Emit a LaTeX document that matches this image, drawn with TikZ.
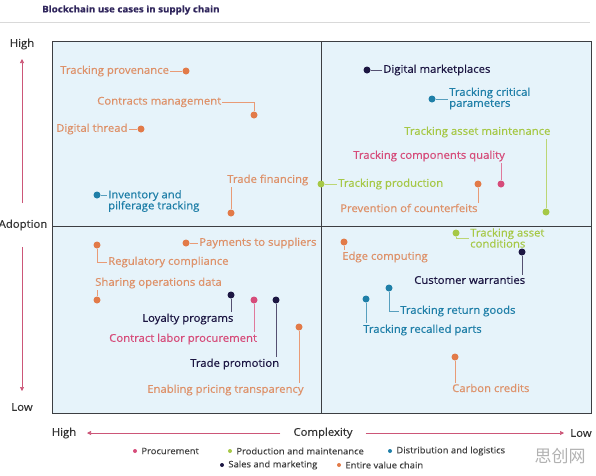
\documentclass[tikz,border=0pt]{standalone}
\usepackage{fontspec}
\setmainfont{Open Sans}[FakeStretch=1.06, FakeBold=0.5]
\newfontfamily\cjkfont{Noto Sans CJK SC}
\usetikzlibrary{arrows.meta, positioning}
\definecolor{procol}{RGB}{214,76,122}
\definecolor{prodcol}{RGB}{166,200,70}
\definecolor{distcol}{RGB}{31,127,168}
\definecolor{salescol}{RGB}{28,22,66}
\definecolor{valcol}{RGB}{226,122,72}
\definecolor{valtext}{RGB}{222,145,105}
\definecolor{bgblue}{RGB}{230,243,250}
\definecolor{boxcol}{RGB}{60,62,66}
\definecolor{axcol}{RGB}{204,86,120}
\definecolor{titlecol}{RGB}{48,38,92}

\begin{document}
\begin{tikzpicture}[
    x=1pt, y=-1pt,
    every node/.style={font=\fontsize{10.7}{11}\selectfont, inner sep=1pt},
    dot/.style={circle, fill=#1, inner sep=0pt, minimum size=7pt},
    ldot/.style={circle, fill=#1, inner sep=0pt, minimum size=4pt},
    lbl/.style={text=#1, anchor=west, align=left},
    lk/.style={draw=#1!75, line width=0.8pt},
    axarrow/.style={-{Triangle[length=4pt,width=4pt]}, draw=axcol,
        line width=0.6pt},
    axlbl/.style={text=black!80, font=\fontsize{10.7}{11}\selectfont},
    leg/.style={anchor=west, text=black!75, font=\fontsize{8.9}{9}\selectfont},
]
\useasboundingbox (0,0) rectangle (596,475);

% ===== title =====
\node[anchor=west, text=titlecol, font=\bfseries\fontsize{9.2}{10}\selectfont]
    (title) at (41,10) {Blockchain use cases in supply chain};
\draw[black!15, line width=0.6pt] (0,22) -- (590,22);

% ===== quadrants =====
\draw[fill=bgblue, draw=boxcol, line width=1pt] (52,41) rectangle (591,413);
\draw[boxcol, line width=1pt] (321,41) -- (321,413);
\draw[boxcol, line width=1pt] (52,226) -- (591,226);

% ===== adoption axis =====
\node[axlbl] (yhigh) at (22,44)  {High};
\node[axlbl] (adop)  at (23,225) {Adoption};
\node[axlbl] (ylow)  at (22,407) {Low};
\coordinate (yup0) at (22,203);
\coordinate (yup1) at (22,59);
\coordinate (ydn0) at (22,247);
\coordinate (ydn1) at (22,391);
\draw[axarrow] (yup0) -- (yup1);
\draw[axarrow] (ydn0) -- (ydn1);

% ===== complexity axis =====
\node[axlbl] (xhigh) at (64,433)  {High};
\node[axlbl] (cplx)  at (323,433) {Complexity};
\node[axlbl] (xlow)  at (581,433) {Low};
\coordinate (xl1) at (87,433);
\coordinate (xr1) at (564,433);
\draw[axarrow] (cplx.west) ++(-12,0) -- (xl1);
\draw[axarrow] (cplx.east) ++(12,0) -- (xr1);

% ===== upper left =====
\node[lbl=valtext] (tprov) at (59,71)  {Tracking provenance};
\node[lbl=valtext] (cman)  at (96,102) {Contracts management};
\node[lbl=valtext] (dthr)  at (55,129) {Digital thread};
\node[lbl=valtext] (tfin)  at (226,180) {Trade financing};
\node[lbl=distcol] (inv)   at (107,201) {Inventory and\\pilferage tracking};

\node[dot=valcol]  (tprov-dot) at (186,71)  {};
\node[dot=valcol]  (cman-dot)  at (254,115) {};
\node[dot=valcol]  (dthr-dot)  at (141,129) {};
\node[dot=valcol]  (tfin-dot)  at (231,213) {};
\node[dot=distcol] (inv-dot)   at (97,195)  {};

% ===== upper right =====
\node[lbl=salescol] (dmkt)  at (382,70)   {Digital marketplaces};
\node[lbl=distcol]  (tcrit) at (448,98.5) {Tracking critical\\parameters};
\node[lbl=prodcol]  (tam)   at (403,132)  {Tracking asset maintenance};
\node[lbl=procol]   (tcq)   at (352,156)  {Tracking components quality};
\node[lbl=prodcol]  (tprod) at (337,184)  {Tracking production};
\node[lbl=valtext]  (prev)  at (339,208)  {Prevention of counterfeits};

\node[dot=salescol] (dmkt-dot)  at (367,70)  {};
\node[dot=distcol]  (tcrit-dot) at (432,99)  {};
\node[dot=prodcol]  (tam-dot)   at (546,212) {};
\node[dot=procol]   (tcq-dot)   at (501,184) {};
\node[dot=prodcol]  (tprod-dot) at (321,184) {};
\node[dot=valcol]   (prev-dot)  at (478,184) {};

% ===== lower left =====
\node[lbl=valtext]  (regc)  at (107,262) {Regulatory compliance};
\node[lbl=valtext]  (pay)   at (198,243) {Payments to suppliers};
\node[lbl=valtext]  (share) at (94,283)  {Sharing operations data};
\node[lbl=salescol] (loy)   at (141,319) {Loyalty programs};
\node[lbl=procol]   (clab)  at (108,339) {Contract labor procurement};
\node[lbl=salescol] (tpro)  at (189,364) {Trade promotion};
\node[lbl=valtext]  (epri)  at (146,390) {Enabling pricing transparency};

\node[dot=valcol]   (regc-dot)  at (97,245)  {};
\node[dot=valcol]   (pay-dot)   at (186,243) {};
\node[dot=valcol]   (share-dot) at (97,300)  {};
\node[dot=salescol] (loy-dot)   at (231,295) {};
\node[dot=procol]   (clab-dot)  at (254,300) {};
\node[dot=salescol] (tpro-dot)  at (276,300) {};
\node[dot=valcol]   (epri-dot)  at (299,327) {};

% ===== lower right =====
\node[lbl=prodcol]  (tac)  at (469,238) {Tracking asset\\conditions};
\node[lbl=valtext]  (edge) at (341,257) {Edge computing};
\node[lbl=salescol] (cwar) at (413,280) {Customer warranties};
\node[lbl=distcol]  (tret) at (399,311) {Tracking return goods};
\node[lbl=distcol]  (trec) at (362,330) {Tracking recalled parts};
\node[lbl=valtext]  (carb) at (451,388) {Carbon credits};

\node[dot=prodcol]  (tac-dot)  at (456,233) {};
\node[dot=valcol]   (edge-dot) at (344,242) {};
\node[dot=salescol] (cwar-dot) at (522,252) {};
\node[dot=distcol]  (tret-dot) at (389,288) {};
\node[dot=distcol]  (trec-dot) at (366,299) {};
\node[dot=valcol]   (carb-dot) at (455,357) {};

% straight side links
\foreach \n/\c in {tprov/valcol, dthr/valcol, pay/valcol, dmkt/salescol,
    tprod/prodcol}
    \draw[lk=\c] (\n-dot) -- (\n);
\foreach \n/\c in {inv/distcol, tcrit/distcol}
    \draw[lk=\c] (\n-dot) -- (\n-dot -| \n.west);
% links down to a label below
\foreach \n/\c in {prev/valcol, loy/salescol, clab/procol, tpro/salescol,
    epri/valcol, edge/valcol, cwar/salescol, trec/distcol, carb/valcol}
    \draw[lk=\c] (\n-dot) -- (\n-dot |- \n.north);
% links up to a label above
\foreach \n/\c in {tfin/valcol, tam/prodcol, tcq/procol, share/valcol}
    \draw[lk=\c] (\n-dot) -- (\n-dot |- \n.south);
% elbows
\foreach \n/\c in {regc/valcol, tret/distcol, tac/prodcol}
    \draw[lk=\c] (\n-dot) |- (\n.west);
\draw[lk=valcol] (cman.east) -| (cman-dot);

% ===== legend =====
\node[ldot=procol]   (lg-pro)   at (135,451) {};
\node[ldot=prodcol]  (lg-prod)  at (230,451) {};
\node[ldot=distcol]  (lg-dist)  at (390,451) {};
\node[ldot=salescol] (lg-sales) at (222,465) {};
\node[ldot=valcol]   (lg-val)   at (339,465) {};
\node[leg, right=3pt of lg-pro]   {Procurement};
\node[leg, right=3pt of lg-prod]  {Production and maintenance};
\node[leg, right=3pt of lg-dist]  {Distribution and logistics};
\node[leg, right=3pt of lg-sales] {Sales and marketing};
\node[leg, right=3pt of lg-val]   {Entire value chain};

\node[text=black!30, font=\cjkfont\fontsize{17}{18}\selectfont]
    (mark) at (560,456) {思创网};

\end{tikzpicture}
\end{document}
